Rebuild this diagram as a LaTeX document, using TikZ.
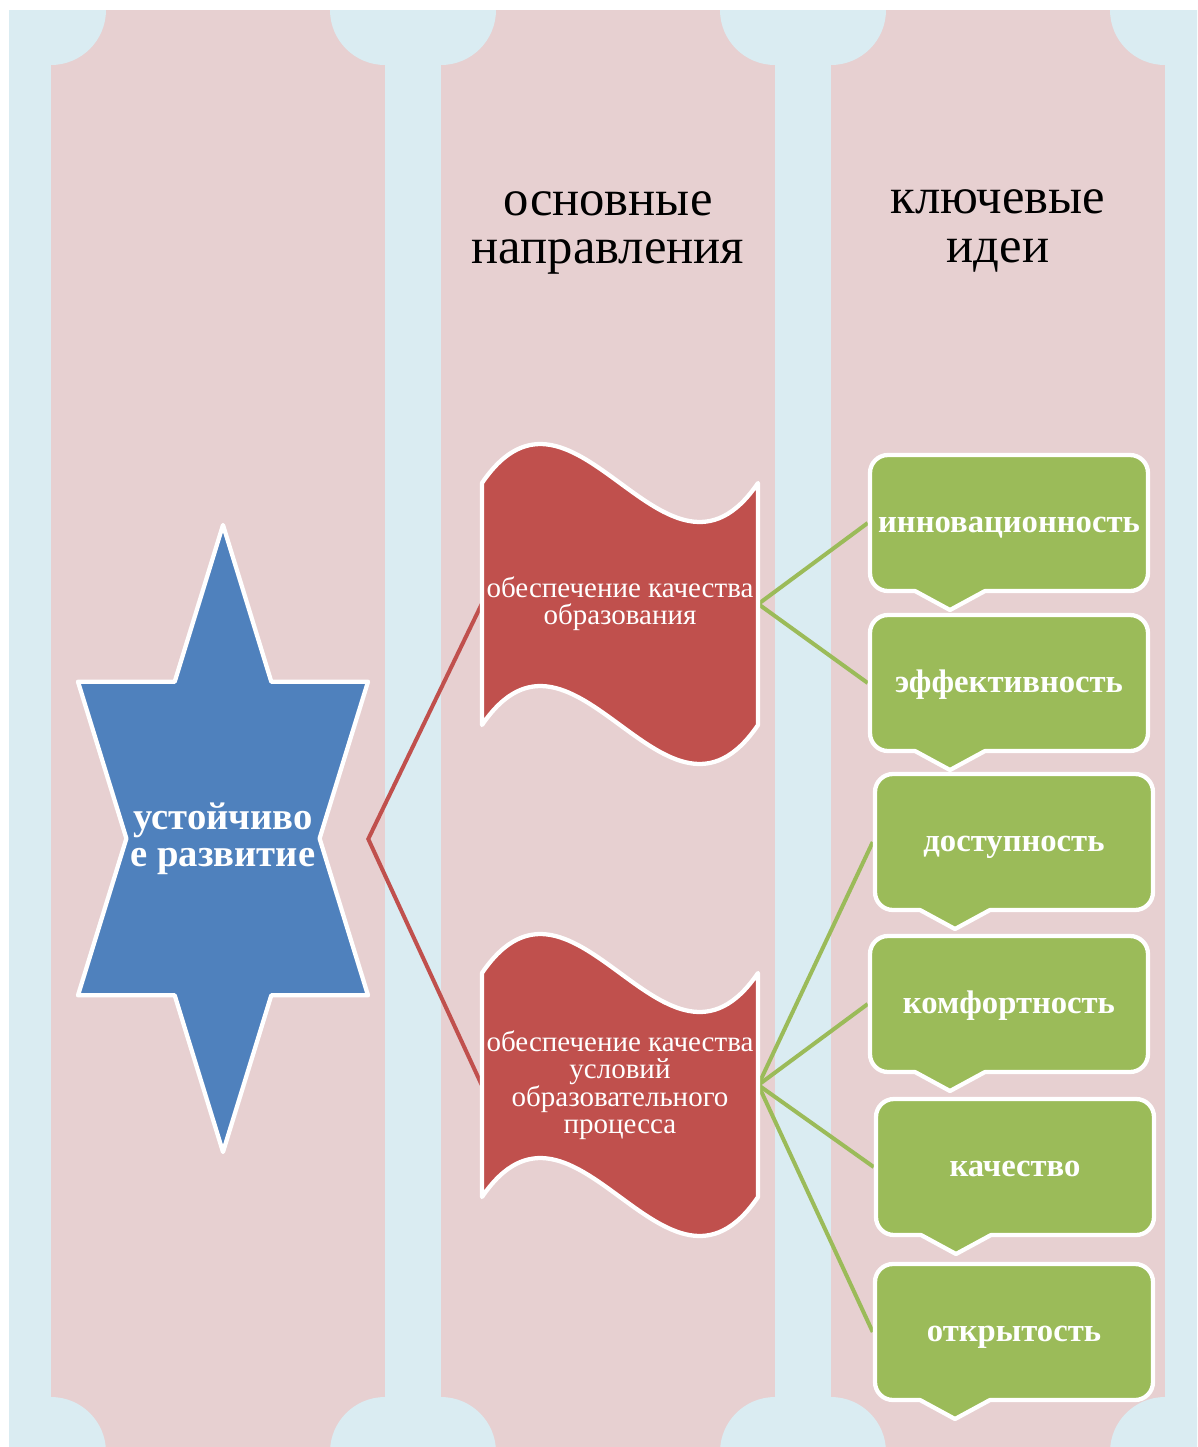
\documentclass[tikz,border=0pt]{standalone}
\usepackage{fontspec}
\setmainfont{Liberation Serif}
\definecolor{bgblue}{RGB}{218,236,242}
\definecolor{colpink}{RGB}{231,208,209}
\definecolor{starblue}{RGB}{79,129,189}
\definecolor{wavered}{RGB}{192,80,77}
\definecolor{leafgreen}{RGB}{155,187,89}
\pgfdeclarelayer{bglayer}
\pgfdeclarelayer{linelayer}
\pgfsetlayers{bglayer,linelayer,main}
\tikzset{
  shapeborder/.style={draw=white, line width=3.2pt, line join=round},
  gshape/.style={shapeborder, fill=leafgreen},
  wshape/.style={shapeborder, fill=wavered},
  sshape/.style={shapeborder, fill=starblue},
  redline/.style={draw=wavered, line width=3pt},
  greenline/.style={draw=leafgreen, line width=3pt},
  heading/.style={align=center, text=black, inner sep=0pt, font=\fontsize{38}{36.5}\selectfont},
  startext/.style={align=center, text=white, inner sep=0pt, minimum width=217.5pt, font=\bfseries\fontsize{29}{27.8}\selectfont},
  wavetext/.style={align=center, text=white, inner sep=0pt, minimum width=207pt, font=\fontsize{21.75}{20.25}\selectfont},
  gtext/.style={align=center, text=white, inner sep=0pt, minimum width=211.5pt, text height=13.5pt, text depth=0pt, font=\bfseries\fontsize{24.5}{24}\selectfont},
}
\newcommand\calloutshape[2]{%
 \path[gshape] ({#1-24},{#2+68}) -- ({#1+121},{#2+68})
  .. controls ({#1+131},{#2+68}) and ({#1+139},{#2+60}) .. ({#1+139},{#2+50})
  -- ({#1+139},{#2-50})
  .. controls ({#1+139},{#2-60}) and ({#1+131},{#2-68}) .. ({#1+121},{#2-68})
  -- ({#1-121},{#2-68})
  .. controls ({#1-131},{#2-68}) and ({#1-139},{#2-60}) .. ({#1-139},{#2-50})
  -- ({#1-139},{#2+50})
  .. controls ({#1-139},{#2+60}) and ({#1-131},{#2+68}) .. ({#1-121},{#2+68})
  -- ({#1-94},{#2+68}) -- ({#1-59},{#2+87}) -- cycle;}
\newcommand\waveshape[4]{% L T R B
 \path[wshape] (#1,#2) .. controls ({#1+(#3-#1)/3},{#2-135}) and ({#1+2*(#3-#1)/3},{#2+135}) .. (#3,#2)
  -- (#3,#4) .. controls ({#1+2*(#3-#1)/3},{#4+135}) and ({#1+(#3-#1)/3},{#4-135}) .. (#1,#4) -- cycle;}
\begin{document}
\begin{tikzpicture}[x=0.75pt,y=-0.75pt]
\useasboundingbox (0,0) rectangle (1198,1447);
% background
\begin{pgfonlayer}{bglayer}
\begin{scope}
\clip (9,10) rectangle (1197,1447);
\fill[bgblue] (9,10) rectangle (1197,1447);
\foreach \a/\b in {51/385,441/775,831/1165} \fill[colpink] (\a,10) rectangle (\b,1447);
\foreach \c in {51,385,441,775,831,1165} {
  \fill[bgblue] (\c,10) circle[radius=55];
  \fill[bgblue] (\c,1452) circle[radius=55];
}
\end{scope}
\end{pgfonlayer}
% headings
\node[heading] (h2) at (608,233) {основные\\направления};
\node[heading] (h3) at (998,231) {ключевые\\идеи};
% shapes
\path[sshape] (223,525) -- (271.3,681.7) -- (368,681.7) -- (319.6,838.5) -- (368,995.3)
  -- (271.3,995.3) -- (223,1152) -- (174.7,995.3) -- (78,995.3) -- (126.4,838.5)
  -- (78,681.7) -- (174.7,681.7) -- cycle;
\waveshape{482}{483}{758}{725}
\waveshape{482}{973}{758}{1197}
\calloutshape{1009}{523}
\calloutshape{1009}{683}
\calloutshape{1014}{842}
\calloutshape{1009}{1004}
\calloutshape{1015}{1167}
\calloutshape{1014}{1332}
% texts
\node[startext] (star) at (223,839) {устойчиво\\е развитие};
\node[wavetext] (w1) at (620,604) {обеспечение качества\\образования};
\node[wavetext] (w2) at (620,1085) {обеспечение качества\\условий\\образовательного\\процесса};
\node[gtext] (b1) at (1009,523) {инновационность};
\node[gtext] (b2) at (1009,683) {эффективность};
\node[gtext] (b3) at (1014,842) {доступность};
\node[gtext] (b4) at (1009,1004) {комфортность};
\node[gtext] (b5) at (1015,1167) {качество};
\node[gtext] (b6) at (1014,1332) {открытость};
% connectors (below the shapes)
\begin{pgfonlayer}{linelayer}
\draw[redline] (w1.west) -- (star.east) -- (w2.west);
\foreach \b in {b1,b2} \draw[greenline] (w1.east) -- (\b.west);
\foreach \b in {b3,b4,b5,b6} \draw[greenline] (w2.east) -- (\b.west);
\end{pgfonlayer}
\end{tikzpicture}
\end{document}
